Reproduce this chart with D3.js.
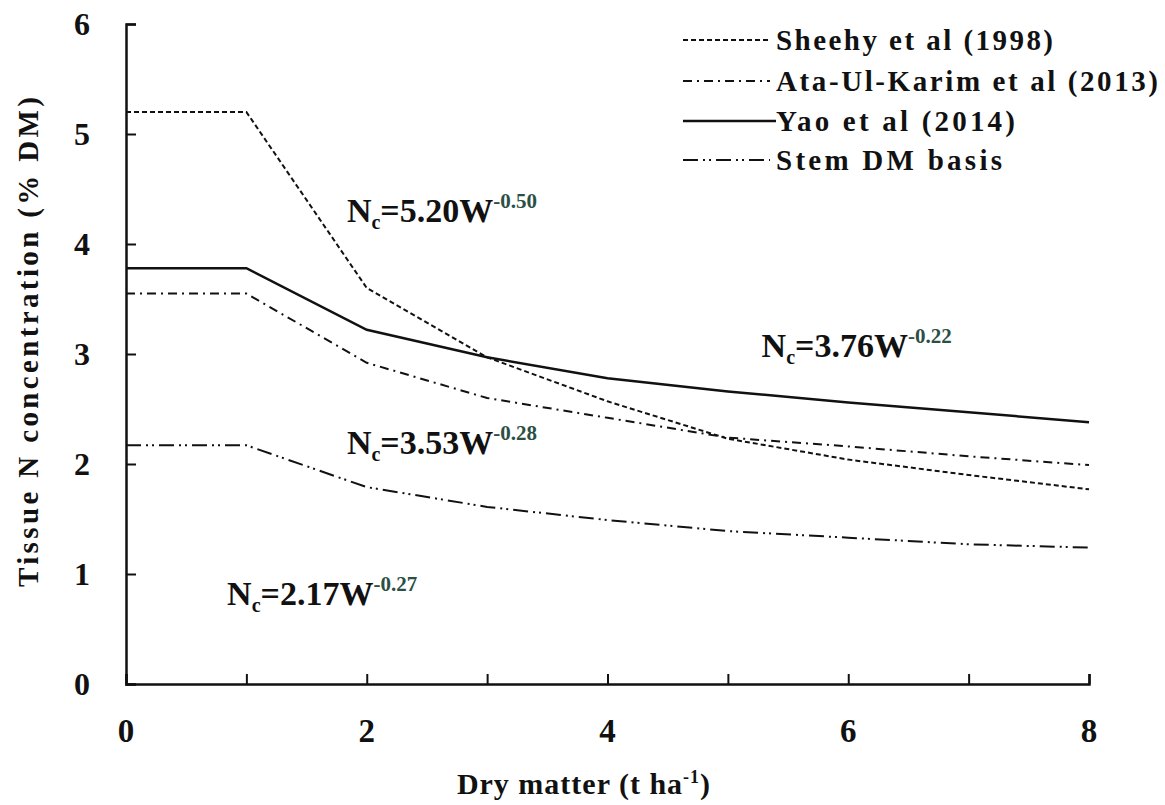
<!DOCTYPE html>
<html>
<head>
<meta charset="utf-8">
<script src="https://cdn.jsdelivr.net/npm/d3@7"></script>
<style>
  html, body { margin: 0; padding: 0; background: #fff; }
  svg { display: block; }
</style>
</head>
<body>
<svg id="chart" width="1165" height="805" font-family="'Liberation Serif', 'DejaVu Serif', 'Times New Roman', serif" font-weight="bold"></svg>
<script>
// ---- data ----
const dryMatter = [0, 1, 2, 3, 4, 5, 6, 7, 8];
const sheehy = [5.20, 5.20, 3.60, 2.97, 2.57, 2.23, 2.04, 1.90, 1.77];
const ataUlKarim = [3.55, 3.55, 2.92, 2.60, 2.42, 2.24, 2.16, 2.07, 1.99];
const yao = [3.78, 3.78, 3.22, 2.97, 2.78, 2.66, 2.56, 2.47, 2.38];
const stemDM = [2.17, 2.17, 1.79, 1.61, 1.49, 1.39, 1.33, 1.27, 1.24];
const seriesNames = ["Sheehy et al (1998)", "Ata-Ul-Karim et al (2013)", "Yao  et al (2014)", "Stem DM basis"];
const xTickLabels = [0, 2, 4, 6, 8];
const yTickLabels = [0, 1, 2, 3, 4, 5, 6];
const equations = [
  { coef: "5.20", exp: "-0.50", x: 1.835, y: 4.2 },
  { coef: "3.76", exp: "-0.22", x: 5.28, y: 2.97 },
  { coef: "3.53", exp: "-0.28", x: 1.835, y: 2.09 },
  { coef: "2.17", exp: "-0.27", x: 0.84, y: 0.72 }
];

const svg = d3.select("#chart");
const x = d3.scaleLinear().domain([0, 8]).range([126, 1089]);
const y = d3.scaleLinear().domain([0, 6]).range([684, 24]);

const styles = [
  { dash: "5,3", width: 2 },
  { dash: "9,5,2,5", width: 2 },
  { dash: null, width: 2.5 },
  { dash: "15,5,2,4,2,5", width: 2 }
];
const allSeries = [sheehy, ataUlKarim, yao, stemDM];

// axes
const xAxis = d3.axisBottom(x).tickValues(d3.range(0, 9)).tickSize(-10).tickFormat("");
const gx = svg.append("g").attr("transform", `translate(0,${y(0)})`).call(xAxis);
gx.select(".domain").attr("stroke", "#111").attr("stroke-width", 2.5);
gx.selectAll(".tick line").attr("stroke", "#111").attr("stroke-width", 2);

const yAxis = d3.axisLeft(y).tickValues(yTickLabels).tickSize(-10).tickFormat("");
const gy = svg.append("g").attr("transform", `translate(${x(0)},0)`).call(yAxis);
gy.select(".domain").attr("stroke", "#111").attr("stroke-width", 2.5);
gy.selectAll(".tick line").attr("stroke", "#111").attr("stroke-width", 2);

const txt = sel => sel.attr("fill", "#111");

// tick labels
svg.append("g").selectAll("text").data(xTickLabels).join("text")
  .attr("x", d => x(d)).attr("y", 742).call(txt)
  .attr("text-anchor", "middle").attr("font-size", 33).text(d => d);
svg.append("g").selectAll("text").data(yTickLabels).join("text")
  .attr("x", 90).attr("y", d => y(d) + 11).call(txt)
  .attr("text-anchor", "end").attr("font-size", 32).text(d => d);

// axis titles
const xt = svg.append("text").attr("x", 584).attr("y", 794).attr("text-anchor", "middle")
  .attr("font-size", 30).attr("letter-spacing", 1).call(txt);
xt.append("tspan").text("Dry matter  (t ha");
xt.append("tspan").attr("font-size", 18).attr("dy", -11).text("-1");
xt.append("tspan").attr("dy", 11).text(")");

svg.append("text").attr("transform", "translate(38,342) rotate(-90)").call(txt)
  .attr("text-anchor", "middle").attr("font-size", 29)
  .attr("textLength", 490).attr("lengthAdjust", "spacing")
  .text("Tissue  N  concentration  (% DM)");

// lines
const line = d3.line().x((d, i) => x(dryMatter[i])).y(d => y(d));
svg.append("g").selectAll("path").data(allSeries).join("path")
  .attr("d", d => line(d))
  .attr("fill", "none").attr("stroke", "#111")
  .attr("stroke-width", (d, i) => styles[i].width)
  .attr("stroke-dasharray", (d, i) => styles[i].dash);

// legend
const legendRows = [40, 81, 121, 160];
const legendTextLen = [277, 382, 239, 226];
const lg = svg.append("g");
seriesNames.forEach((name, i) => {
  lg.append("line").attr("x1", 683).attr("x2", i === 2 ? 776 : 770)
    .attr("y1", legendRows[i]).attr("y2", legendRows[i])
    .attr("stroke", "#111").attr("stroke-width", styles[i].width)
    .attr("stroke-dasharray", styles[i].dash);
  lg.append("text").attr("x", 776).attr("y", legendRows[i] + 10).call(txt)
    .attr("font-size", 29).attr("textLength", legendTextLen[i]).attr("lengthAdjust", "spacing")
    .text(name);
});

// equations
equations.forEach(eq => {
  const t = svg.append("text").attr("x", x(eq.x)).attr("y", y(eq.y)).attr("font-size", 34).call(txt);
  t.append("tspan").text("N");
  t.append("tspan").attr("font-size", 20).attr("dy", 7).text("c");
  t.append("tspan").attr("dy", -7).text("=" + eq.coef + "W");
  t.append("tspan").attr("font-size", 21).attr("dy", -14).attr("fill", "#2b4f44").text(eq.exp);
});
</script>
</body>
</html>
